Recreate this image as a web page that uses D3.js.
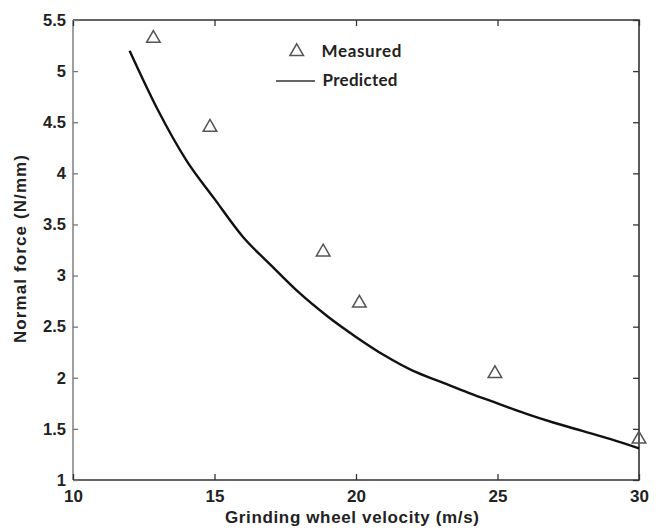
<!DOCTYPE html>
<html>
<head>
<meta charset="utf-8">
<script src="https://cdn.jsdelivr.net/npm/d3@7"></script>
<style>
  body { margin: 0; background: #fff; }
</style>
</head>
<body>
<div id="chart"></div>
<script>
// measured points
const measuredV = [12.84, 14.84, 18.84, 20.12, 24.91, 30.0];
const measuredF = [5.32, 4.45, 3.23, 2.73, 2.04, 1.40];

// predicted curve
const predictedV = [12, 13, 14, 15, 16, 17, 18, 19, 20, 21, 22, 23, 24, 25, 26, 27, 28, 29, 30];
const predictedF = [5.20, 4.62, 4.13, 3.75, 3.38, 3.10, 2.83, 2.60, 2.40, 2.22, 2.07, 1.96, 1.85, 1.75, 1.65, 1.56, 1.48, 1.40, 1.31];

const xTicks = [10, 15, 20, 25, 30];
const yTicks = [1, 1.5, 2, 2.5, 3, 3.5, 4, 4.5, 5, 5.5];

const arial = "'Liberation Sans', Arial, sans-serif";
const margin = { top: 20, right: 20, bottom: 48, left: 73 },
  width = 659 - margin.left - margin.right,
  height = 528 - margin.top - margin.bottom;

const svg = d3
  .select("#chart")
  .append("svg")
  .attr("width", width + margin.left + margin.right)
  .attr("height", height + margin.top + margin.bottom)
  .append("g")
  .attr("transform", `translate(${margin.left}, ${margin.top})`);

const x = d3.scaleLinear().domain([10, 30]).range([0, width]);
const y = d3.scaleLinear().domain([1, 5.5]).range([height, 0]);

// box: left side lighter grey, others dark
svg.append("path")
  .attr("d", `M0,0H${width}V${height}H0`)
  .attr("fill", "none")
  .attr("stroke", "#333")
  .attr("stroke-width", 1.6);
svg.append("line")
  .attr("x1", 0).attr("x2", 0).attr("y1", 0).attr("y2", height)
  .attr("stroke", "#888")
  .attr("stroke-width", 1.6);

// bottom axis, ticks inward
const xAxis = svg.append("g")
  .attr("transform", `translate(0, ${height})`)
  .call(d3.axisBottom(x).tickValues(xTicks).tickSize(-6).tickPadding(10));
xAxis.select(".domain").remove();
xAxis.selectAll("line").attr("stroke", "#333").attr("stroke-width", 1.3);
xAxis.selectAll("text")
  .style("font-family", arial)
  .style("font-size", "17px")
  .style("font-weight", "bold")
  .attr("fill", "#222");

// top ticks
const xTop = svg.append("g")
  .call(d3.axisTop(x).tickValues(xTicks).tickSize(-6).tickFormat(""));
xTop.select(".domain").remove();
xTop.selectAll("line").attr("stroke", "#333").attr("stroke-width", 1.3);

// left axis
const yAxis = svg.append("g")
  .call(d3.axisLeft(y).tickValues(yTicks).tickSize(-5).tickPadding(7).tickFormat(d3.format("")));
yAxis.select(".domain").remove();
yAxis.selectAll("line").attr("stroke", "#777").attr("stroke-width", 1.3);
yAxis.selectAll("text")
  .style("font-family", arial)
  .style("font-size", "16.5px")
  .style("font-weight", "bold")
  .attr("fill", "#222");

// right ticks
const yRight = svg.append("g")
  .attr("transform", `translate(${width}, 0)`)
  .call(d3.axisRight(y).tickValues(yTicks).tickSize(-6).tickFormat(""));
yRight.select(".domain").remove();
yRight.selectAll("line").attr("stroke", "#333").attr("stroke-width", 1.3);

// predicted line
const predicted = predictedV.map((v, i) => ({ v: v, f: predictedF[i] }));
svg.append("path")
  .datum(predicted)
  .attr("fill", "none")
  .attr("stroke", "#111")
  .attr("stroke-width", 2.4)
  .attr("d", d3.line().curve(d3.curveMonotoneX).x((d) => x(d.v)).y((d) => y(d.f)));

// measured triangles
const measured = measuredV.map((v, i) => ({ v: v, f: measuredF[i] }));
const tri = d3.symbol().type(d3.symbolTriangle).size(80);
svg.selectAll("path.measured")
  .data(measured)
  .join("path")
  .attr("class", "measured")
  .attr("d", tri)
  .attr("transform", (d) => `translate(${x(d.v)}, ${y(d.f)})`)
  .attr("fill", "none")
  .attr("stroke", "#555")
  .attr("stroke-width", 1.5);

// legend
const legend = svg.append("g");
legend.append("path")
  .attr("d", tri)
  .attr("transform", `translate(${296.7 - margin.left}, ${51.7 - margin.top})`)
  .attr("fill", "none")
  .attr("stroke", "#555")
  .attr("stroke-width", 1.5);
legend.append("text")
  .attr("x", 321.5 - margin.left)
  .attr("y", 57 - margin.top)
  .style("font-family", "Lato, 'Open Sans', sans-serif")
  .style("font-size", "17px")
  .style("font-weight", "bold")
  .attr("fill", "#222")
  .attr("textLength", 80)
  .text("Measured");
legend.append("line")
  .attr("x1", 276 - margin.left)
  .attr("x2", 315 - margin.left)
  .attr("y1", 81 - margin.top)
  .attr("y2", 81 - margin.top)
  .attr("stroke", "#333")
  .attr("stroke-width", 1.5);
legend.append("text")
  .attr("x", 322.5 - margin.left)
  .attr("y", 86 - margin.top)
  .style("font-family", "Lato, 'Open Sans', sans-serif")
  .style("font-size", "17px")
  .style("font-weight", "bold")
  .attr("fill", "#222")
  .attr("textLength", 75)
  .text("Predicted");

// axis titles
svg.append("text")
  .attr("x", 352 - margin.left)
  .attr("y", 523 - margin.top)
  .attr("text-anchor", "middle")
  .attr("textLength", 254)
  .style("font-family", arial)
  .style("font-size", "17px")
  .style("font-weight", "bold")
  .attr("fill", "#222")
  .text("Grinding wheel velocity (m/s)");

svg.append("text")
  .attr("transform", `translate(${26 - margin.left}, ${249 - margin.top}) rotate(-90)`)
  .attr("text-anchor", "middle")
  .attr("textLength", 188)
  .style("font-family", arial)
  .style("font-size", "17px")
  .style("font-weight", "bold")
  .attr("fill", "#222")
  .text("Normal force (N/mm)");
</script>
</body>
</html>
